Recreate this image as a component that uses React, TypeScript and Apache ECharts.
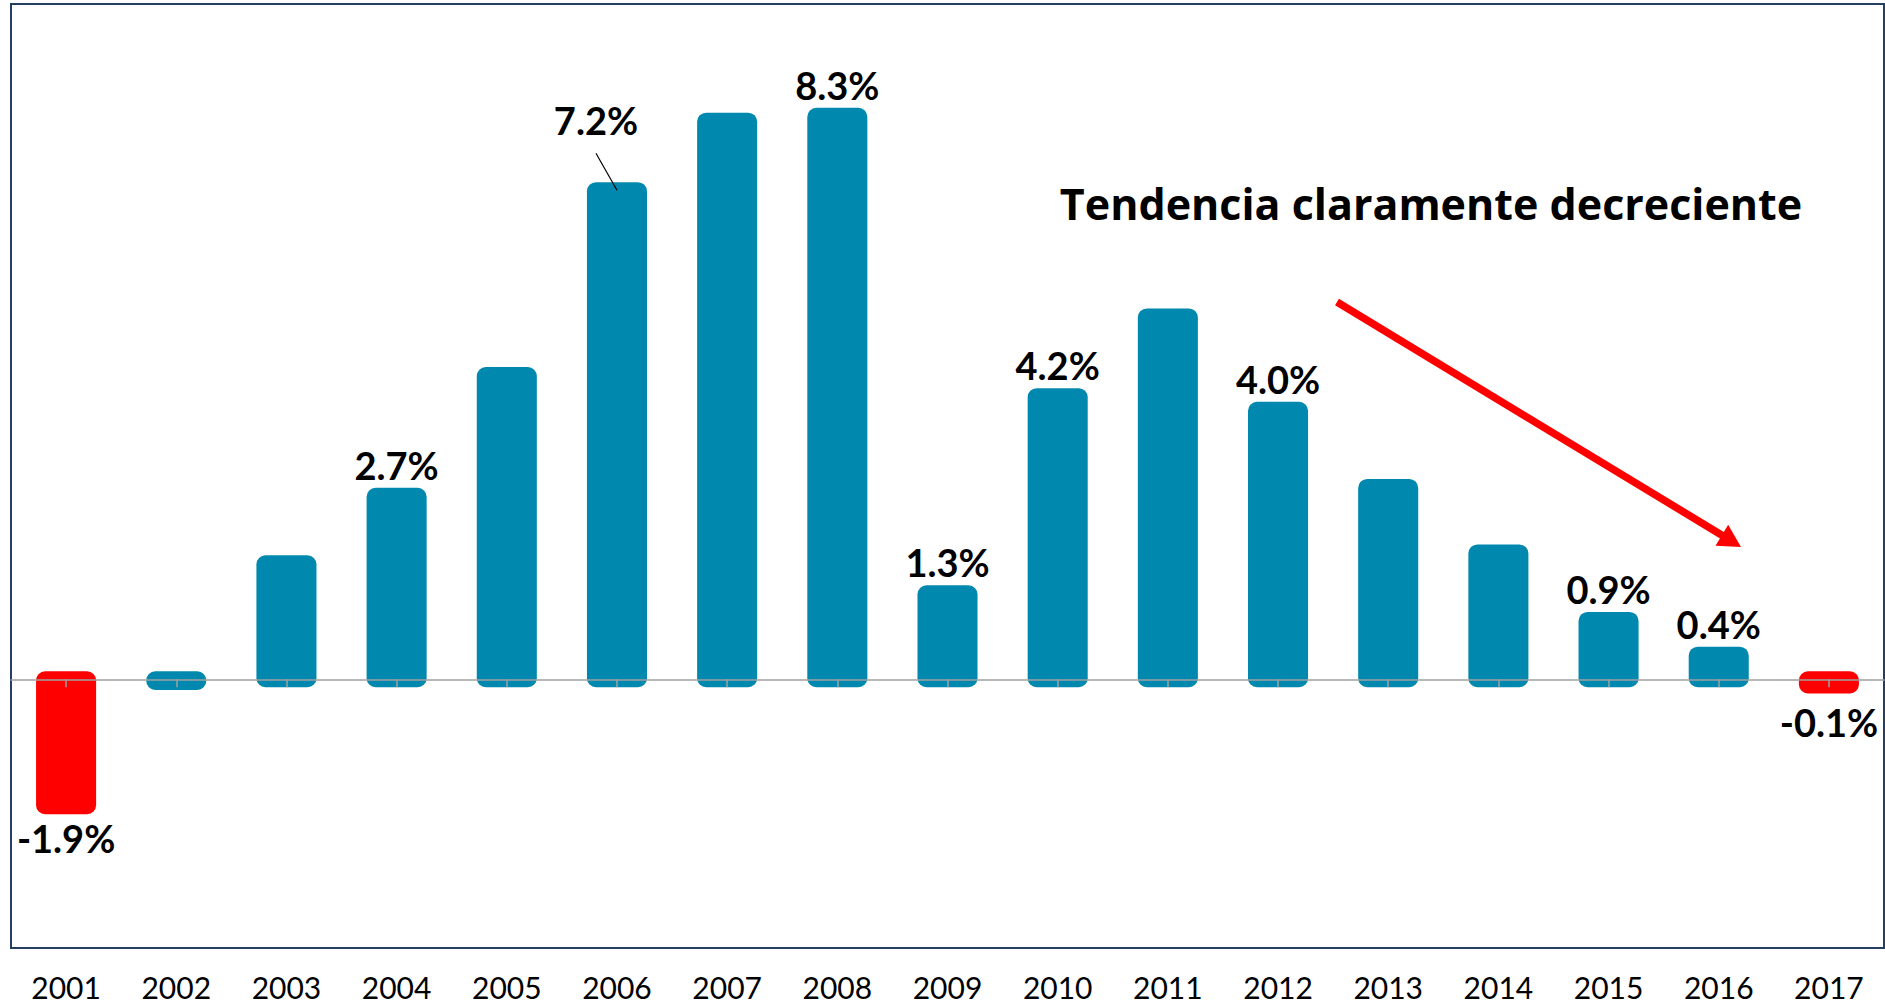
import React, { useEffect, useRef } from 'react';
import * as echarts from 'echarts';

const years = ['2001', '2002', '2003', '2004', '2005', '2006', '2007', '2008', '2009', '2010', '2011', '2012', '2013', '2014', '2015', '2016', '2017'];
const growth = [-1.86, -0.04, 1.7, 2.69, 4.46, 7.17, 8.19, 8.26, 1.26, 4.15, 5.32, 3.95, 2.82, 1.86, 0.87, 0.36, -0.09];
const labeledYears = ['2001', '2004', '2006', '2008', '2009', '2010', '2012', '2015', '2016', '2017'];
const redYears = ['2001', '2017'];
const calloutYear = '2006';
const annotation = 'Tendencia claramente decreciente';

const BLUE = '#0088AE';
const RED = '#FF0000';
const FONT = 'Lato, "Open Sans", sans-serif';

const fmt = (v: number) => (Math.round(v * 10) / 10).toFixed(1) + '%';

export default function App() {
  const ref = useRef<HTMLDivElement>(null);

  useEffect(() => {
    document.body.style.margin = '0';
    document.body.style.overflow = 'hidden';
    const chart = echarts.init(ref.current as HTMLDivElement, null, { renderer: 'svg' });

    const renderItem = (params: any, api: any) => {
      const i = api.value(0);
      const v = api.value(1);
      const year = years[i];
      const zero = api.coord([i, 0]);
      const end = api.coord([i, v]);
      const cx = zero[0];
      const bw = api.size([1, 0])[0] * 0.545;
      const ext = 8;
      const yTop = Math.min(zero[1], end[1]) - ext;
      const yBot = Math.max(zero[1], end[1]) + ext;
      const color = redYears.includes(year) ? RED : BLUE;
      const children: any[] = [
        {
          type: 'rect',
          shape: { x: cx - bw / 2, y: yTop, width: bw, height: yBot - yTop, r: 9 },
          style: { fill: color },
        },
      ];
      if (labeledYears.includes(year)) {
        let lx = cx;
        let ly = v >= 0 ? end[1] - 31 : Math.max(end[1] + 32, zero[1] + 43);
        if (year === calloutYear) {
          lx = cx - 21;
          ly = end[1] - 70;
          children.push({
            type: 'line',
            shape: { x1: cx - 21, y1: end[1] - 37, x2: cx, y2: end[1] },
            style: { stroke: '#000', lineWidth: 1.2 },
          });
        }
        children.push({
          type: 'text',
          x: lx,
          y: ly,
          style: {
            text: fmt(v),
            font: `bold 38px ${FONT}`,
            fill: '#000',
            align: 'center',
            verticalAlign: 'middle',
          },
        });
      }
      return { type: 'group', children };
    };

    const option: any = {
      animation: false,
      backgroundColor: '#ffffff',
      grid: {
        left: 11,
        top: 4,
        width: 1873,
        height: 944,
        show: true,
        borderColor: '#243F60',
        borderWidth: 2,
        backgroundColor: 'transparent',
        containLabel: false,
        outerBoundsMode: 'none',
      },
      xAxis: [
        {
          type: 'category',
          data: years,
          position: 'bottom',
          z: 10,
          axisLine: { show: true, onZero: true, lineStyle: { color: '#A0A0A0', width: 1.5 } },
          axisTick: { show: true, alignWithLabel: true, length: 8, lineStyle: { color: '#A0A0A0', width: 1.5 } },
          axisLabel: { show: false },
          splitLine: { show: false },
        },
        {
          type: 'category',
          data: years,
          position: 'bottom',
          axisLine: { show: false, onZero: false },
          axisTick: { show: false },
          axisLabel: { show: true, margin: 24, fontSize: 30, fontFamily: FONT, color: '#000', interval: 0 },
          splitLine: { show: false },
        },
      ],
      yAxis: {
        type: 'value',
        min: -3.94,
        max: 9.9,
        show: false,
        splitLine: { show: false },
      },
      series: [
        {
          type: 'custom',
          xAxisIndex: 0,
          yAxisIndex: 0,
          renderItem,
          data: years.map((y, i) => [i, growth[i]]),
          z: 2,
        },
      ],
      graphic: [
        {
          type: 'text',
          x: 1431,
          y: 203,
          style: {
            text: annotation,
            font: `bold 43px "Open Sans", Lato, sans-serif`,
            fill: '#000',
            align: 'center',
            verticalAlign: 'middle',
          },
        },
        {
          type: 'line',
          shape: { x1: 1337, y1: 302, x2: 1724, y2: 536.5 },
          style: { stroke: RED, lineWidth: 7.5 },
        },
        {
          type: 'polygon',
          shape: { points: [[1741, 547], [1715.5, 545.8], [1728.2, 524.8]] },
          style: { fill: RED },
        },
      ],
    };

    chart.setOption(option);
    return () => chart.dispose();
  }, []);

  return <div ref={ref} style={{ position: 'absolute', left: 0, top: 0, width: 1885, height: 1007 }} />;
}
